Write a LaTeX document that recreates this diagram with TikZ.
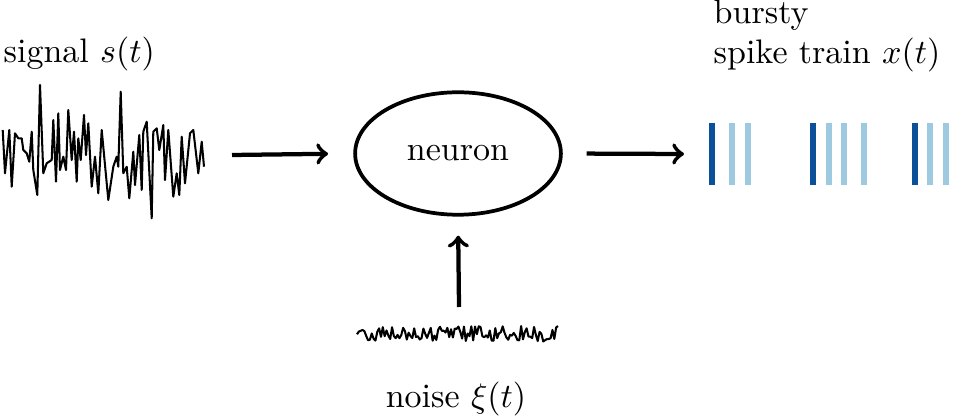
\documentclass[tikz,border=0pt]{standalone}
\usetikzlibrary{shapes.geometric}
\definecolor{spikedark}{HTML}{0B5199}
\definecolor{spikelight}{HTML}{9ECAE1}
\begin{document}
\begin{tikzpicture}[x=0.294pt,y=-0.294pt,
  wave/.style={line width=0.6pt,line join=round},
  arr/.style={->,line width=1.25pt},
  spk/.style={line width=1.8pt},
  lbl/.style={inner sep=0pt,font=\fontsize{10}{12}\selectfont}]
\useasboundingbox (0,0) rectangle (954,417);
% signal
\draw[wave] (2.7,130) -- (5,173.3) -- (9.3,130) -- (11.7,186.7) -- (15,133.3) -- (18.3,138.3) -- (21.7,138.3) -- (23.3,150) -- (26.7,153.3) -- (29.3,161.7) -- (31.7,131.7) -- (33.3,170) -- (37.3,195) -- (40,85) -- (43.3,173.3) -- (46.7,163.3) -- (51.7,160) -- (53.3,120) -- (56,181.7) -- (58.3,113.3) -- (60,170) -- (63.3,156.7) -- (66,170) -- (68.3,110) -- (71.7,160) -- (74,131.7) -- (76.7,181.7) -- (78.3,138.3) -- (80.7,160) -- (84,115) -- (86,155) -- (88.3,123.3) -- (91.7,186.7) -- (95,156.7) -- (98.3,193.3) -- (101.7,130) -- (108.3,200) -- (113.3,166.7) -- (116.7,156.7) -- (118.3,166.7) -- (120.7,91.7) -- (123.3,173.3) -- (126.7,166.7) -- (129.3,198.3) -- (133.3,151.7) -- (135,185) -- (139.3,135) -- (141.7,190) -- (143.3,131.7) -- (146.7,121.7) -- (151.7,218.3) -- (153.3,131.7) -- (156.7,128.3) -- (159.3,150) -- (163.3,125) -- (165,180) -- (168.3,130) -- (173.3,196.7) -- (176.7,173.3) -- (179.3,195) -- (181.7,136.7) -- (185,183.3) -- (190,133.3) -- (193.3,130) -- (198.3,173.3) -- (201.7,141.7) -- (204,166.7);
\node[lbl,anchor=base west] (siglbl) at (3,63) {signal $s(t)$};
% neuron
\node[ellipse,draw,line width=1.1pt,minimum width=60.5pt,minimum height=36pt,inner sep=0pt,font=\fontsize{10}{12}\selectfont] (neuron) at (458,153.5) {neuron};
\coordinate (sigout) at (232,155);
\draw[arr,shorten >=7.4pt] (sigout) -- (neuron.west);
\coordinate (spkin) at (684,154);
\draw[arr,shorten <=7pt] (neuron.east) -- (spkin);
\coordinate (noiseout) at (459,307);
\draw[arr,shorten >=5.6pt] (noiseout) -- (neuron.south);
% noise
\pgfmathsetseed{11}
\draw[wave] plot[domain=357:558,samples=110] (\x,{334+8*rand});
\node[lbl,anchor=base] (noiselbl) at (456,407) {noise $\xi(t)$};
% spike train
\foreach \xx in {712,813,915} \draw[spk,spikedark] (\xx,123) -- (\xx,185);
\foreach \xx in {732,748,829,844,864,930,946} \draw[spk,spikelight] (\xx,123) -- (\xx,185);
\node[lbl,anchor=base west] (burst1) at (713,24) {bursty};
\node[lbl,anchor=base west] (burst2) at (713,64) {spike train $x(t)$};
\end{tikzpicture}
\end{document}
